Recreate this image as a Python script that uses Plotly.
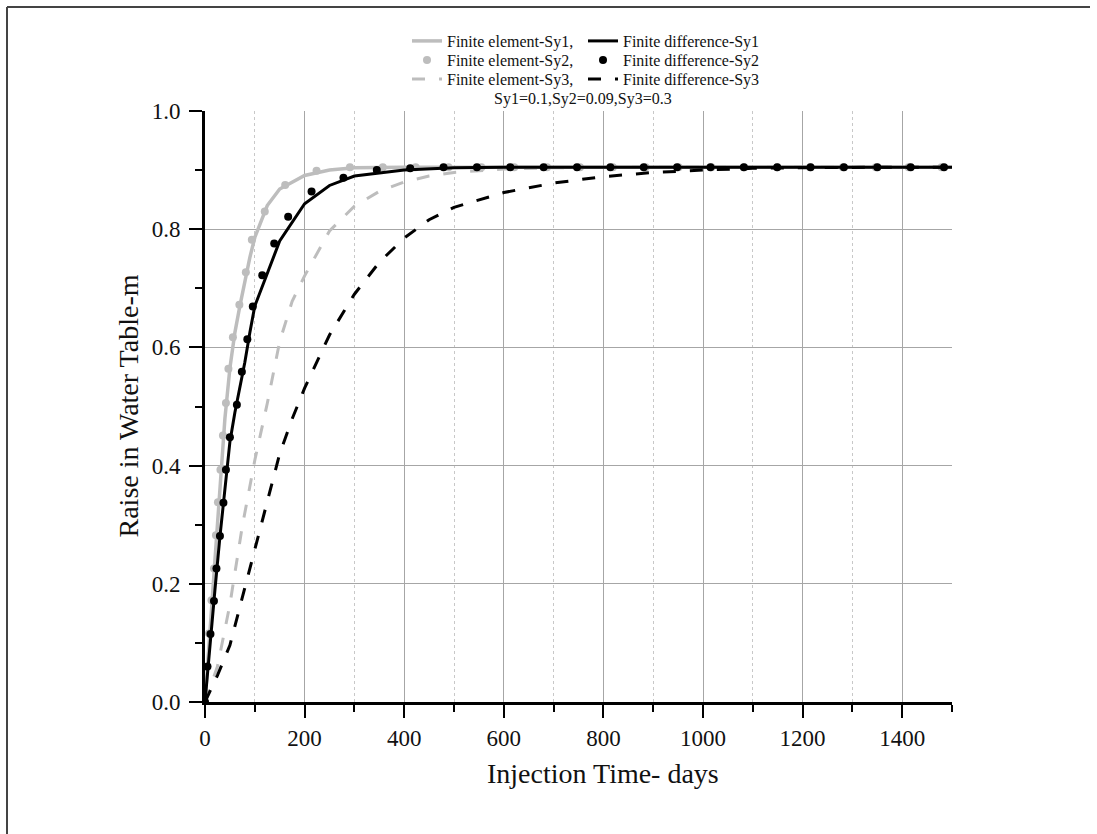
import plotly.graph_objects as go

# ---------------- data ----------------
x_fe1 = [0, 10, 20, 30, 40, 50, 60, 70, 80, 90, 100, 125, 150, 200, 250, 300, 400,
         500, 600, 700, 800, 900, 1000, 1100, 1200, 1300, 1400, 1500]
y_fe1 = [0, 0.115, 0.23, 0.365, 0.48, 0.565, 0.625, 0.67, 0.715, 0.752, 0.786, 0.840,
         0.868, 0.891, 0.900, 0.904, 0.905, 0.905, 0.905, 0.905, 0.905, 0.905, 0.905,
         0.905, 0.905, 0.905, 0.905, 0.905]

x_fd1 = [0, 10, 20, 30, 40, 50, 60, 70, 80, 90, 100, 150, 200, 250, 300, 400, 500,
         600, 700, 800, 900, 1000, 1100, 1200, 1300, 1400, 1500]
y_fd1 = [0, 0.10, 0.19, 0.28, 0.365, 0.44, 0.49, 0.53, 0.575, 0.625, 0.67, 0.78, 0.843,
         0.874, 0.89, 0.90, 0.904, 0.905, 0.905, 0.905, 0.905, 0.905, 0.905, 0.905,
         0.905, 0.905, 0.905]

x_fe2 = [0, 3, 8, 13, 18, 22, 26, 31, 36, 42, 47, 56, 69, 82, 94, 120, 161, 224, 291,
         357, 423, 489, 555, 621, 687, 753, 819, 885, 951, 1017, 1083, 1149, 1215,
         1281, 1347, 1413, 1479]
y_fe2 = [0, 0.06, 0.116, 0.172, 0.226, 0.282, 0.338, 0.393, 0.451, 0.506, 0.564, 0.617,
         0.672, 0.727, 0.782, 0.830, 0.875, 0.899, 0.905, 0.905, 0.905, 0.905, 0.905,
         0.905, 0.905, 0.905, 0.905, 0.905, 0.905, 0.905, 0.905, 0.905, 0.905, 0.905,
         0.905, 0.905, 0.905]

x_fd2 = [0, 5, 11, 18, 23, 30, 37, 42, 50, 64, 74, 85, 96, 115, 139, 167, 214, 278, 345,
         412, 479, 546, 613, 680, 747, 814, 881, 948, 1015, 1082, 1149, 1216, 1283,
         1350, 1417, 1484]
y_fd2 = [0, 0.06, 0.115, 0.171, 0.226, 0.281, 0.337, 0.393, 0.448, 0.503, 0.559, 0.614,
         0.669, 0.722, 0.776, 0.821, 0.864, 0.887, 0.900, 0.903, 0.905, 0.905, 0.905,
         0.905, 0.905, 0.905, 0.905, 0.905, 0.905, 0.905, 0.905, 0.905, 0.905, 0.905,
         0.905, 0.905]

x_fe3 = [0, 25, 50, 75, 100, 125, 150, 175, 200, 250, 300, 350, 400, 450, 500, 600, 700,
         800, 900, 1000, 1100, 1200, 1300, 1400, 1500]
y_fe3 = [0, 0.06, 0.165, 0.298, 0.409, 0.505, 0.61, 0.678, 0.721, 0.797, 0.839, 0.864,
         0.880, 0.890, 0.896, 0.902, 0.904, 0.905, 0.905, 0.905, 0.905, 0.905, 0.905,
         0.905, 0.905]

x_fd3 = [0, 25, 50, 75, 100, 125, 150, 175, 200, 250, 300, 350, 400, 450, 500, 600, 700,
         800, 900, 1000, 1100, 1200, 1300, 1400, 1500]
y_fd3 = [0, 0.045, 0.096, 0.177, 0.263, 0.342, 0.42, 0.479, 0.531, 0.621, 0.690, 0.744,
         0.785, 0.816, 0.837, 0.862, 0.878, 0.889, 0.896, 0.900, 0.903, 0.904, 0.905,
         0.905, 0.905]

names = ["Finite element-Sy1,", "Finite difference-Sy1",
         "Finite element-Sy2,", "Finite difference-Sy2",
         "Finite element-Sy3,", "Finite difference-Sy3"]
note_text = "Sy1=0.1,Sy2=0.09,Sy3=0.3"
x_title = "Injection Time- days"
y_title = "Raise in Water Table-m"

# ---------------- styling ----------------
W, H = 1097, 834
L, R, T, B = 205, 145, 111, 132
GRAY = "#bdbdbd"
BLACK = "#000000"
FONT = "Liberation Serif"
DASH = "13px,14px"

def px_to_paper_x(px):
    return (px - L) / (W - L - R)

def px_to_paper_y(py):
    return (H - B - py) / (H - T - B)

fig = go.Figure()

fig.add_trace(go.Scatter(x=x_fe3, y=y_fe3, mode="lines", name=names[4], legend="legend5",
                         line=dict(color=GRAY, width=3, dash=DASH)))
fig.add_trace(go.Scatter(x=x_fe1, y=y_fe1, mode="lines", name=names[0], legend="legend",
                         line=dict(color=GRAY, width=3.5)))
fig.add_trace(go.Scatter(x=x_fe2, y=y_fe2, mode="markers", name=names[2], legend="legend3",
                         marker=dict(color=GRAY, size=8)))
fig.add_trace(go.Scatter(x=x_fd1, y=y_fd1, mode="lines", name=names[1], legend="legend2",
                         line=dict(color=BLACK, width=3)))
fig.add_trace(go.Scatter(x=x_fd2, y=y_fd2, mode="markers", name=names[3], legend="legend4",
                         marker=dict(color=BLACK, size=8)))
fig.add_trace(go.Scatter(x=x_fd3, y=y_fd3, mode="lines", name=names[5], legend="legend6",
                         line=dict(color=BLACK, width=3, dash=DASH)))

# legend placement: one legend per entry (two columns, three rows)
col_x = [407, 583]
row_y = [41, 60, 79]
legend_keys = ["legend", "legend2", "legend3", "legend4", "legend5", "legend6"]
legends = {}
for i, key in enumerate(legend_keys):
    r, c = divmod(i, 2)
    legends[key] = dict(
        x=col_x[c] / W, y=1 - row_y[r] / H, xref="container", yref="container",
        xanchor="left", yanchor="middle", bgcolor="rgba(0,0,0,0)",
        font=dict(family=FONT, size=16, color="#111"), itemwidth=30,
    )

fig.update_layout(
    width=W, height=H,
    margin=dict(l=L, r=R, t=T, b=B, autoexpand=False),
    paper_bgcolor="white", plot_bgcolor="white",
    font=dict(family=FONT, color="#111"),
    showlegend=True,
    **legends,
)

fig.update_xaxes(
    range=[0, 1500], dtick=200, tick0=0,
    showline=True, linecolor=BLACK, linewidth=3,
    ticks="outside", ticklen=13, tickwidth=2, tickcolor=BLACK,
    tickfont=dict(family=FONT, size=23, color="#111"),
    showgrid=True, gridcolor="#a6a6a6", gridwidth=1,
    zeroline=False, automargin=False,
    minor=dict(dtick=100, ticks="outside", ticklen=7, tickwidth=2, tickcolor=BLACK,
               showgrid=True, gridcolor="#c8c8c8", gridwidth=1, griddash="dot"),
)
fig.update_yaxes(
    range=[0, 1.0], dtick=0.2, tick0=0, tickformat=".1f",
    showline=True, linecolor=BLACK, linewidth=3,
    ticks="outside", ticklen=13, tickwidth=2, tickcolor=BLACK,
    tickfont=dict(family=FONT, size=23, color="#111"),
    showgrid=True, gridcolor="#a6a6a6", gridwidth=1,
    zeroline=False, ticklabelstandoff=4, automargin=False,
    minor=dict(dtick=0.1, ticks="outside", ticklen=7, tickwidth=2, tickcolor=BLACK,
               showgrid=False),
)

fig.add_annotation(text=x_title, xref="paper", yref="paper",
                   x=px_to_paper_x(603), y=px_to_paper_y(773),
                   xanchor="center", yanchor="middle", showarrow=False,
                   font=dict(family=FONT, size=28, color="#111"))
fig.add_annotation(text=y_title, xref="paper", yref="paper",
                   x=px_to_paper_x(128), y=0.5, textangle=-90,
                   xanchor="center", yanchor="middle", showarrow=False,
                   font=dict(family=FONT, size=28, color="#111"))
fig.add_annotation(text=note_text, xref="paper", yref="paper",
                   x=px_to_paper_x(583), y=px_to_paper_y(99),
                   xanchor="center", yanchor="middle", showarrow=False,
                   font=dict(family=FONT, size=16, color="#111"))

# page frame (top and left edges)
fig.add_shape(type="line", xref="paper", yref="paper",
              x0=px_to_paper_x(7), x1=px_to_paper_x(1090),
              y0=px_to_paper_y(7), y1=px_to_paper_y(7),
              line=dict(color="#444", width=2))
fig.add_shape(type="line", xref="paper", yref="paper",
              x0=px_to_paper_x(7), x1=px_to_paper_x(7),
              y0=px_to_paper_y(7), y1=px_to_paper_y(834),
              line=dict(color="#444", width=2))

fig.write_html("out.html")
